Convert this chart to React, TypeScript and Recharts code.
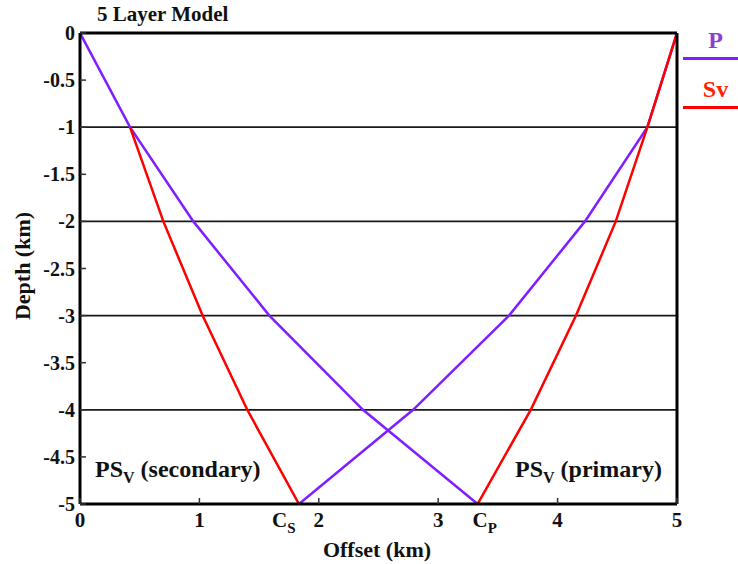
import React from 'react';
import { LineChart, Line, XAxis, YAxis, ReferenceLine, Legend } from 'recharts';

const FONT = '"Liberation Serif", "Times New Roman", serif';
const PURPLE = '#7f1fff';
const RED = '#ff0000';

// depth of each layer interface (km)
const downDepths = [0, -1, -2, -3, -4, -5];
const upDepths = [-5, -4, -3, -2, -1, 0];
const layerBoundaries = [-1, -2, -3, -4];

// P leg going down from the source at offset 0
const pDownOffsets = [0, 0.419, 0.949, 1.586, 2.37, 3.33];
// Sv leg of the secondary PSv, converted at the first interface
const svDownDepths = [-1, -2, -3, -4, -5];
const svDownOffsets = [0.419, 0.698, 1.027, 1.401, 1.834];
// P leg coming up from C_S to the receiver at 5 km
const pUpOffsets = [1.834, 2.79, 3.593, 4.229, 4.752, 5];
// Sv leg coming up from C_P to the receiver
const svUpOffsets = [3.33, 3.775, 4.154, 4.487, 4.752, 5];

// conversion points on the bottom interface
const CS = 1.834;
const CP = 3.33;

const xTicks = [0, 1, CS, 2, 3, CP, 4, 5];
const xFrameTicks = [1, 2, 3, 4];
const yTicks = [0, -0.5, -1, -1.5, -2, -2.5, -3, -3.5, -4, -4.5, -5];

const legendItems = [
  { name: 'P', color: PURPLE, textColor: '#8b3fd2' },
  { name: 'Sv', color: RED, textColor: '#ff2200' },
];

const toRows = (offsets: number[], depths: number[]) =>
  offsets.map((x, i) => ({ x, depth: depths[i] }));

const rays = [
  { key: 'pDown', data: toRows(pDownOffsets, downDepths), color: PURPLE },
  { key: 'svDown', data: toRows(svDownOffsets, svDownDepths), color: RED },
  { key: 'pUp', data: toRows(pUpOffsets, upDepths), color: PURPLE },
  { key: 'svUp', data: toRows(svUpOffsets, upDepths), color: RED },
];

const textStyle = { fontFamily: FONT, fontWeight: 700, fill: '#111' };

const BottomTick = ({ x, y, payload }: any) => {
  const v = payload.value;
  if (v === CS || v === CP) {
    const sub = v === CS ? 'S' : 'P';
    return (
      <text x={v === CS ? x - 27 : x - 5} y={y + 23} fontSize={21} {...textStyle}>
        C<tspan dy={6} fontSize={15}>{sub}</tspan>
      </text>
    );
  }
  return (
    <g>
      <line x1={x} x2={x} y1={y} y2={y - 6} stroke="#333" strokeWidth={1.5} />
      <text x={x} y={y + 23} textAnchor="middle" fontSize={21} {...textStyle}>
        {v}
      </text>
    </g>
  );
};

const LeftTick = ({ x, y, payload }: any) => (
  <g>
    <line x1={x} x2={x + 6} y1={y} y2={y} stroke="#333" strokeWidth={1.5} />
    <text x={x - 5} y={y} dy="0.35em" textAnchor="end" fontSize={20} {...textStyle}>
      {payload.value}
    </text>
  </g>
);

const TopTick = ({ x, y }: any) => (
  <line x1={x} x2={x} y1={y} y2={y + 6} stroke="#333" strokeWidth={1.5} />
);

const RightTick = ({ x, y }: any) => (
  <line x1={x} x2={x - 6} y1={y} y2={y} stroke="#333" strokeWidth={1.5} />
);

const WaveLegend = () => (
  <div style={{ width: 55, fontFamily: FONT, fontWeight: 700 }}>
    {legendItems.map((item) => (
      <div key={item.name} style={{ marginBottom: 16 }}>
        <div style={{ color: item.textColor, fontSize: 24, lineHeight: '26px', textAlign: 'center', paddingLeft: 10 }}>
          {item.name}
        </div>
        <div style={{ height: 3, background: item.color, marginTop: 4 }} />
      </div>
    ))}
  </div>
);

export default function App() {
  return (
    <div style={{ position: 'absolute', left: 0, top: 0, width: 738, height: 564, background: '#fff' }}>
      <LineChart width={738} height={564} margin={{ top: 23, right: 51, bottom: 30, left: 20 }}>
        <XAxis
          type="number"
          dataKey="x"
          domain={[0, 5]}
          ticks={xTicks}
          height={30}
          tickSize={0}
          tickMargin={0}
          tickLine={false}
          tick={<BottomTick />}
          axisLine={{ stroke: '#000', strokeWidth: 3 }}
          allowDataOverflow
          interval={0}
        />
        <XAxis
          xAxisId="top"
          orientation="top"
          type="number"
          domain={[0, 5]}
          ticks={xFrameTicks}
          height={10}
          tickSize={0}
          tickMargin={0}
          tickLine={false}
          tick={<TopTick />}
          axisLine={{ stroke: '#000', strokeWidth: 3 }}
          interval={0}
        />
        <YAxis
          type="number"
          domain={[-5, 0]}
          ticks={yTicks}
          width={60}
          tickSize={0}
          tickMargin={0}
          tickLine={false}
          tick={<LeftTick />}
          axisLine={{ stroke: '#000', strokeWidth: 3 }}
          allowDataOverflow
          interval={0}
        />
        <YAxis
          yAxisId="right"
          orientation="right"
          type="number"
          domain={[-5, 0]}
          ticks={yTicks}
          width={10}
          tickSize={0}
          tickMargin={0}
          tickLine={false}
          tick={<RightTick />}
          axisLine={{ stroke: '#000', strokeWidth: 3 }}
          interval={0}
        />
        {layerBoundaries.map((d) => (
          <ReferenceLine key={d} y={d} stroke="#1a1a1a" strokeWidth={1.8} />
        ))}
        {rays.map((r) => (
          <Line
            key={r.key}
            data={r.data}
            dataKey="depth"
            type="linear"
            stroke={r.color}
            strokeWidth={2.5}
            dot={false}
            legendType="none"
            isAnimationActive={false}
          />
        ))}
        <Legend
          layout="horizontal"
          verticalAlign="middle"
          align="center"
          content={<WaveLegend />}
          wrapperStyle={{ left: 683, top: 27, width: 55 }}
        />
        <text x={97} y={21} fontSize={21} {...textStyle}>5 Layer Model</text>
        <text transform="translate(30,266) rotate(-90)" textAnchor="middle" fontSize={22} {...textStyle}>
          Depth (km)
        </text>
        <text x={377} y={557} textAnchor="middle" fontSize={22} {...textStyle}>Offset (km)</text>
        <text x={95} y={477} fontSize={24} {...textStyle}>
          PS<tspan dy={6} fontSize={16}>V</tspan>
          <tspan dy={-6}> (secondary)</tspan>
        </text>
        <text x={515} y={477} fontSize={24} {...textStyle}>
          PS<tspan dy={6} fontSize={16}>V</tspan>
          <tspan dy={-6}> (primary)</tspan>
        </text>
      </LineChart>
    </div>
  );
}
